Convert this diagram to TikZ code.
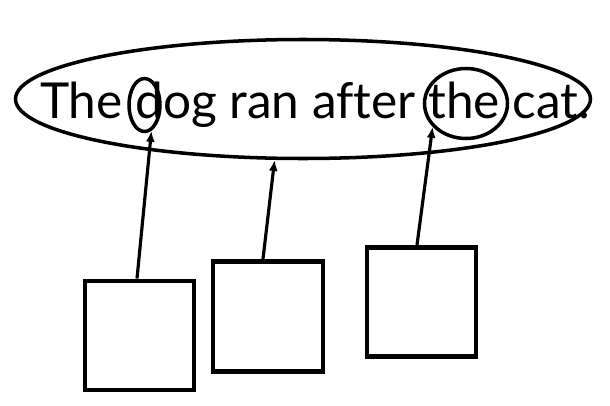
\documentclass[tikz,border=0pt]{standalone}
\usepackage{fontspec}
\setmainfont{Lato}[Ligatures=NoCommon]
\usepackage{tikz}
\usetikzlibrary{shapes.geometric, arrows.meta, positioning}

\begin{document}
\begin{tikzpicture}
    \useasboundingbox (0,0) rectangle (12.2,8.1);

    % Sentence
    \node [draw, ellipse, line width=2pt, minimum width=11.5cm, minimum height=2.38cm, inner sep=0pt] (sentence) at (6.06,6.12) {};
    \node [anchor=base, inner sep=0pt, font=\fontsize{28.2}{32}\selectfont] (words) at (6.3,5.74) {The dog ran after the cat.};

    % Marked words
    \node [draw, ellipse, line width=2pt, minimum width=0.62cm, minimum height=1.06cm, inner sep=0pt] (dword) at (2.89,6.00) {};
    \node [draw, ellipse, line width=2pt, minimum width=1.66cm, minimum height=1.40cm, inner sep=0pt] (theword) at (9.32,6.03) {};

    % Boxes
    \node [draw, rectangle, line width=2.8pt, minimum size=2.18cm] (box1) at (2.79,1.39) {};
    \node [draw, rectangle, line width=2.8pt, minimum size=2.2cm] (box2) at (5.36,1.77) {};
    \node [draw, rectangle, line width=2.8pt, minimum size=2.18cm] (box3) at (8.43,2.06) {};

    % Arrows
    \draw [line width=1.8pt, -{Latex[length=2.2mm, width=1.8mm]}] ([xshift=-0.05cm]box1.north) -- (dword.285);
    \draw [line width=1.8pt, -{Latex[length=2.2mm, width=1.8mm]}] ([xshift=-0.1cm]box2.north) -- (sentence.245);
    \draw [line width=1.8pt, -{Latex[length=2.2mm, width=1.8mm]}] ([xshift=-0.09cm]box3.north) -- (theword.215);
\end{tikzpicture}
\end{document}
